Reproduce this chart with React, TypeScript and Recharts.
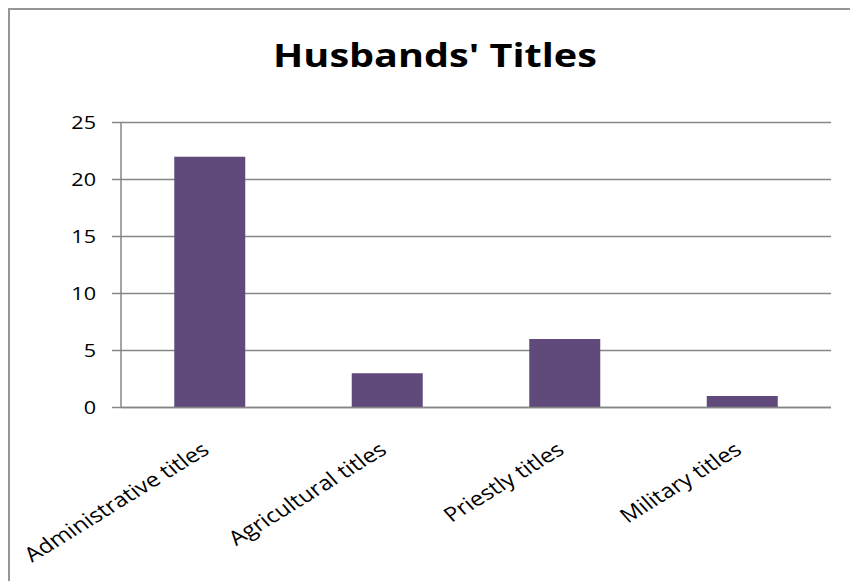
import React from "react";
import { BarChart, Bar, XAxis, YAxis, CartesianGrid } from "recharts";

const categories = ["Administrative titles", "Agricultural titles", "Priestly titles", "Military titles"];
const counts = [22, 3, 6, 1];
const yTicks = [0, 5, 10, 15, 20, 25];
const chartTitle = "Husbands' Titles";

const data = categories.map((c, i) => ({ name: c, value: counts[i] }));

const FONT = "'Open Sans', Lato, sans-serif";
const GRID = "#868686";
const STRETCH = 1.2;

const XTick = (props: any) => {
  const { x, y, payload } = props;
  const tx = x + 1;
  const ty = y + 37;
  return (
    <text
      x={0}
      y={0}
      textAnchor="end"
      fontFamily={FONT}
      fontSize={20}
      fill="#000"
      transform={`translate(${tx}, ${ty}) scale(${STRETCH}, 1) rotate(-36.5)`}
    >
      {payload.value}
    </text>
  );
};

const YTick = (props: any) => {
  const { x, y, payload } = props;
  return (
    <text
      x={0}
      y={0}
      dy="0.355em"
      textAnchor="end"
      fontFamily={FONT}
      fontSize={18}
      fill="#000"
      transform={`translate(${x}, ${y}) scale(${STRETCH}, 1)`}
    >
      {payload.value}
    </text>
  );
};

export default function App() {
  return (
    <div
      style={{
        position: "fixed",
        left: 0,
        top: 0,
        width: 900,
        height: 640,
        overflow: "hidden",
        background: "#fff",
      }}
    >
      <style>{`html, body { overflow: hidden; }`}</style>
      <div
        style={{
          position: "absolute",
          left: 8,
          top: 8,
          width: 900,
          height: 700,
          borderTop: "2px solid #969696",
          borderLeft: "2px solid #969696",
        }}
      >
        <svg width={890} height={100} style={{ position: "absolute", left: 0, top: 0 }}>
          <text
            x={0}
            y={0}
            textAnchor="middle"
            fontFamily={FONT}
            fontWeight="bold"
            fontSize={33}
            fill="#000"
            transform={`translate(425, 57) scale(${STRETCH}, 1)`}
          >
            {chartTitle}
          </text>
        </svg>
        <div style={{ position: "absolute", left: 0, top: 0 }}>
          <BarChart
            width={890}
            height={620}
            data={data}
            margin={{ top: 112.5, right: 69, bottom: 162.5, left: 51 }}
            barCategoryGap="30%"
          >
            <CartesianGrid vertical={false} stroke={GRID} strokeWidth={1.5} />
            <XAxis
              dataKey="name"
              height={60}
              axisLine={{ stroke: GRID, strokeWidth: 1.5 }}
              tickLine={false}
              interval={0}
              tick={<XTick />}
            />
            <YAxis
              width={60}
              domain={[0, 25]}
              ticks={yTicks}
              axisLine={{ stroke: GRID, strokeWidth: 1.5 }}
              tickLine={{ stroke: GRID, strokeWidth: 1.5 }}
              tickSize={9}
              tickMargin={16}
              tick={<YTick />}
            />
            <Bar dataKey="value" fill="#604A7B" isAnimationActive={false} />
          </BarChart>
        </div>
      </div>
    </div>
  );
}
